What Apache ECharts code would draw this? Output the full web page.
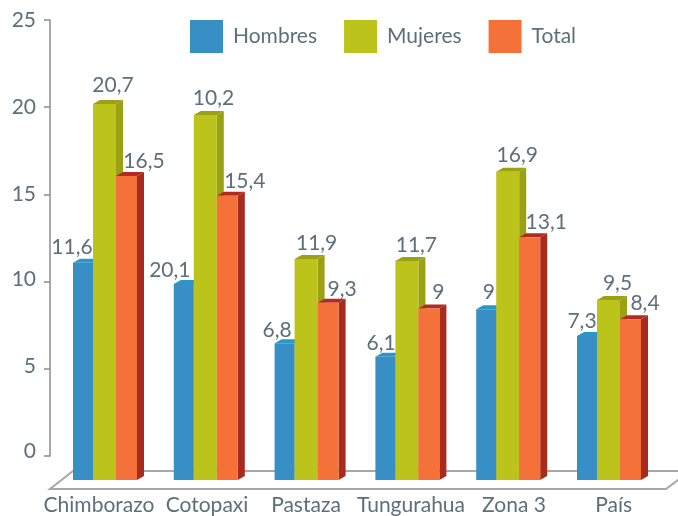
<!DOCTYPE html>
<html>
<head>
<meta charset="utf-8">
<script src="https://cdn.jsdelivr.net/npm/echarts@6/dist/echarts.min.js"></script>
<style>
html, body { margin: 0; padding: 0; background: #fff; }
#main { width: 678px; height: 516px; }
</style>
</head>
<body>
<div id="main"></div>
<script>
var categories = ['Chimborazo', 'Cotopaxi', 'Pastaza', 'Tungurahua', 'Zona 3', 'País'];
var yTicks = [0, 5, 10, 15, 20, 25];

// bar heights as read against the axis
var hombres = [11.31, 10.09, 6.69, 5.92, 8.64, 7.11];
var mujeres = [20.41, 19.78, 11.53, 11.41, 16.53, 9.17];
var total = [16.28, 15.15, 9.02, 8.68, 12.77, 8.07];

// printed labels, not always the same as the bar they sit on
var hombresLabels = ['11,6', '20,1', '6,8', '6,1', '9', '7,3'];
var mujeresLabels = ['20,7', '10,2', '11,9', '11,7', '16,9', '9,5'];
var totalLabels = ['16,5', '15,4', '9,3', '9', '13,1', '8,4'];

var textColor = '#5c6f7b';
var fontName = 'Lato';
var fontSize = 21;
var depthX = 7, depthY = 4;   // 3d offset of the bars
var baseDrop = 24;            // front base of the bars below the 0 tick
var groupLeft = -27.4;        // first bar relative to the band centre

// hand placed in the original, so nudged one by one
var labelDx = {
	Hombres: [-1, -4, 2.5, 5.7, 12.7, 5],
	Mujeres: [20, 19.7, 22, 21, 21, 20.5],
	Total: [28, 28, 24.5, 20, 27, 25]
};
var labelDy = {
	Hombres: [-16, -13.5, -12.6, -13.7, -16.8, -15],
	Mujeres: [-19, -16.5, -16, -15.5, -16.7, -17],
	Total: [-15, -15, -13, -16, -15, -16]
};
var categoryShift = [-1.4, 5.8, 4, 8.2, 10.4, 9.3];
var tickLift = { 0: 5, 5: 3, 10: 2, 15: 0.5, 20: 0, 25: 0 };

function barSeries(name, values, labels, start, width, front, top, side) {
	return {
		name: name,
		type: 'custom',
		coordinateSystem: 'cartesian2d',
		clip: false,
		silent: true,
		z: 3,
		itemStyle: { color: front },
		data: values.map(function (v, i) { return [i, v]; }),
		encode: { x: 0, y: 1 },
		renderItem: function (params, api) {
			var i = api.value(0);
			var p = api.coord([i, api.value(1)]);
			var base = api.coord([i, 0])[1] + baseDrop;
			var left = p[0] + groupLeft + start;
			var right = left + width;
			var y = p[1] + depthY;
			return {
				type: 'group',
				children: [
					{
						type: 'polygon',
						shape: { points: [[right, y], [right + depthX, y - depthY], [right + depthX, base - depthY], [right, base]] },
						style: { fill: side }
					},
					{
						type: 'polygon',
						shape: { points: [[left, y], [left + depthX, y - depthY], [right + depthX, y - depthY], [right, y]] },
						style: { fill: top }
					},
					{
						type: 'rect',
						shape: { x: left, y: y, width: width, height: base - y },
						style: { fill: front }
					},
					{
						type: 'text',
						z2: 10,
						style: {
							text: labels[i],
							x: left + labelDx[name][i],
							y: y + labelDy[name][i],
							align: 'center',
							verticalAlign: 'middle',
							font: fontSize + 'px ' + fontName,
							fill: textColor
						}
					}
				]
			};
		}
	};
}

// floor of the fake 3d box
var floorSeries = {
	name: 'piso',
	type: 'custom',
	coordinateSystem: 'cartesian2d',
	clip: false,
	silent: true,
	z: 1,
	data: [[0, 0]],
	encode: { x: 0, y: 1 },
	renderItem: function (params, api) {
		var x0 = params.coordSys.x;
		var y0 = api.coord([0, 0])[1];
		var line = { stroke: '#a8a8a8', lineWidth: 2, fill: 'none' };
		return {
			type: 'group',
			children: [
				{
					type: 'polyline',
					shape: { points: [[x0 + 640, y0 + 15], [x0 + 23, y0 + 15], [x0, y0 + 33], [x0 + 616, y0 + 33], [x0 + 640, y0 + 15]] },
					style: line
				}
			]
		};
	}
};

var yRich = {};
yTicks.forEach(function (t) {
	yRich['t' + t] = {
		color: textColor,
		fontSize: fontSize,
		fontFamily: fontName,
		padding: [0, 0, tickLift[t] * 2, 0]
	};
});

var myChart = echarts.init(document.getElementById('main'));
var option = {
	animation: false,
	backgroundColor: '#fff',
	textStyle: { fontFamily: fontName },
	legend: {
		data: ['Hombres', 'Mujeres', 'Total'],
		left: 190,
		top: 20,
		padding: 0,
		icon: 'rect',
		itemWidth: 33,
		itemHeight: 33,
		itemGap: 27,
		selectedMode: false,
		textStyle: { color: textColor, fontSize: fontSize, fontFamily: fontName, padding: [0, 0, 0, 5] }
	},
	grid: { left: 50, top: 20, width: 604.8, height: 436 },
	xAxis: {
		type: 'category',
		data: categories.map(function (c, i) {
			var s = categoryShift[i] * 2;
			return {
				value: c,
				textStyle: { padding: s > 0 ? [0, 0, 0, s] : [0, -s, 0, 0] }
			};
		}),
		axisLine: { show: false },
		axisTick: { show: false },
		axisLabel: { interval: 0, margin: 39, color: textColor, fontSize: fontSize, fontFamily: fontName, hideOverlap: false }
	},
	yAxis: {
		type: 'value',
		min: yTicks[0],
		max: yTicks[yTicks.length - 1],
		interval: 5,
		splitLine: { show: false },
		axisLine: { show: true, lineStyle: { color: '#8c8c8c', width: 1.5 } },
		axisTick: { show: true, length: 6, lineStyle: { color: '#8c8c8c', width: 1.5 } },
		axisLabel: {
			margin: 14,
			rich: yRich,
			formatter: function (v) { return '{t' + v + '|' + v + '}'; }
		}
	},
	series: [
		floorSeries,
		barSeries('Hombres', hombres, hombresLabels, 0, 20, '#388fc5', '#2b97c7', '#2b7aa8'),
		barSeries('Mujeres', mujeres, mujeresLabels, 20, 23, '#bcc41c', '#9aa114', '#9aa114'),
		barSeries('Total', total, totalLabels, 43, 21, '#f5713a', '#b02c20', '#a82b20')
	]
};
myChart.setOption(option);
window.onresize = () => myChart.resize();
</script>
</body>
</html>
